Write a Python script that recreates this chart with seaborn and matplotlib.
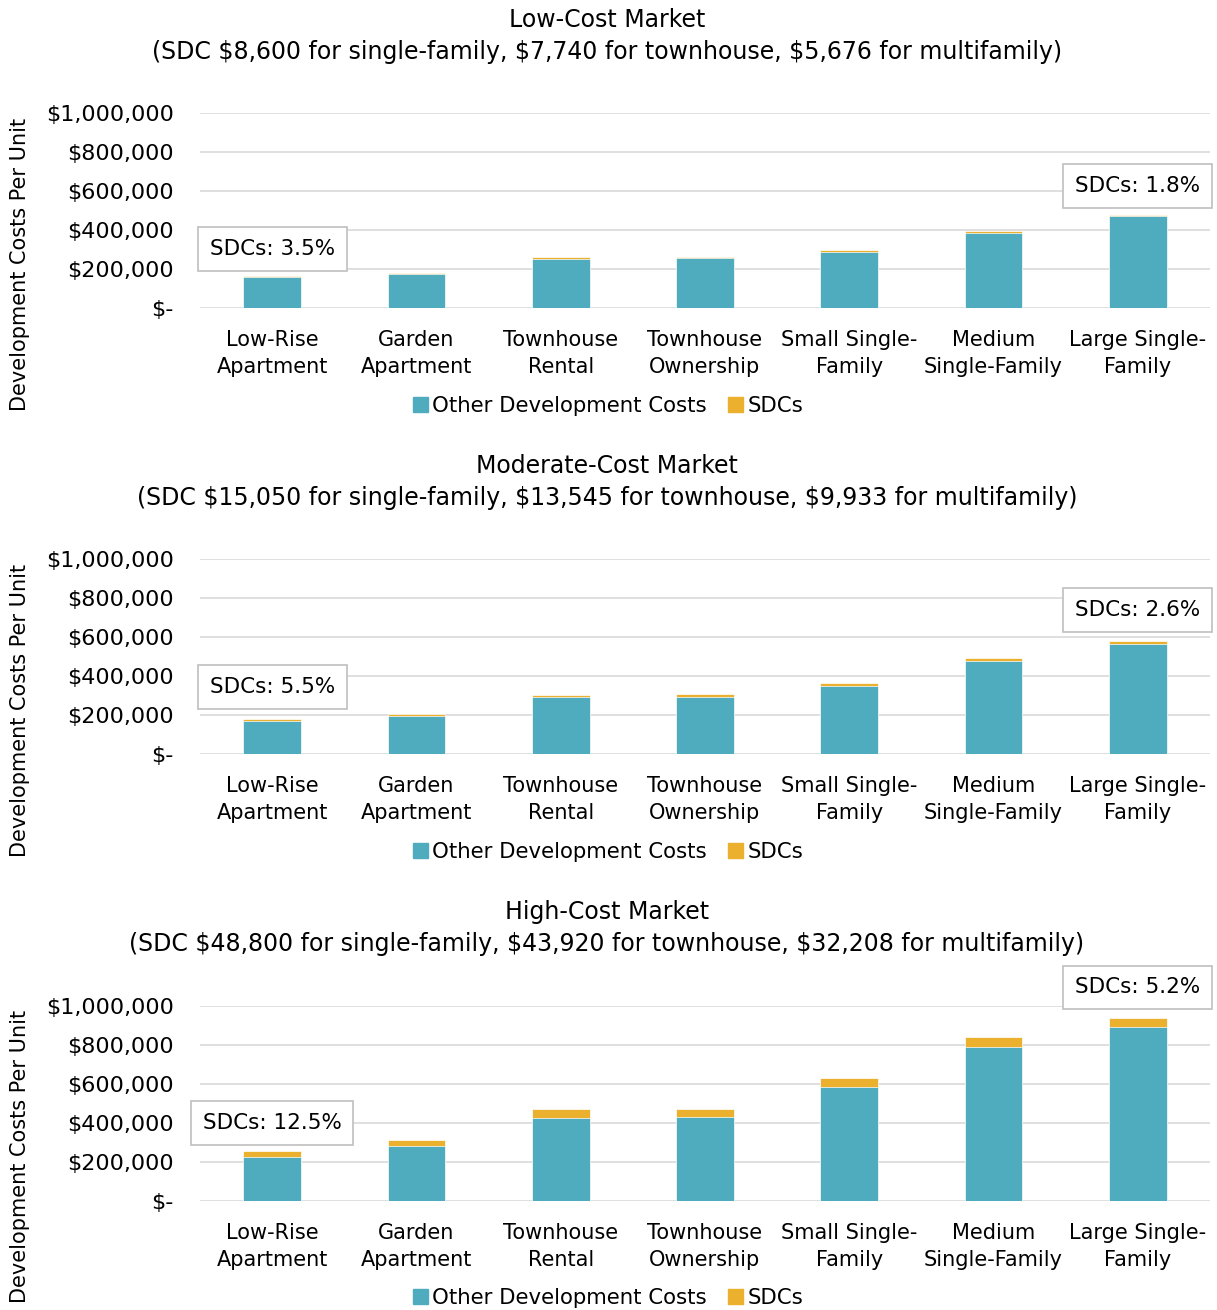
import pandas as pd
import matplotlib
matplotlib.use('Agg')
import matplotlib.pyplot as plt
from matplotlib.patches import Patch
from matplotlib.ticker import FuncFormatter
import seaborn as sns

categories = ['Low-Rise\nApartment', 'Garden\nApartment', 'Townhouse\nRental', 'Townhouse\nOwnership',
              'Small Single-\nFamily', 'Medium\nSingle-Family', 'Large Single-\nFamily']

markets = ['Low-Cost Market', 'Moderate-Cost Market', 'High-Cost Market']
subtitles = ['(SDC $8,600 for single-family, $7,740 for townhouse, $5,676 for multifamily)',
             '(SDC $15,050 for single-family, $13,545 for townhouse, $9,933 for multifamily)',
             '(SDC $48,800 for single-family, $43,920 for townhouse, $32,208 for multifamily)']

# SDC per unit by category
sdc_low = [5676, 5676, 7740, 7740, 8600, 8600, 8600]
sdc_mod = [9933, 9933, 13545, 13545, 15050, 15050, 15050]
sdc_high = [32208, 32208, 43920, 43920, 48800, 48800, 48800]

# other development costs
other_low = [156500, 175000, 253000, 255000, 286000, 385000, 469000]
other_mod = [171000, 195000, 290000, 295000, 351000, 478000, 564000]
other_high = [225000, 282000, 427000, 430000, 583000, 791000, 890000]

notes = [('SDCs: 3.5%', 'SDCs: 1.8%'), ('SDCs: 5.5%', 'SDCs: 2.6%'), ('SDCs: 12.5%', 'SDCs: 5.2%')]
note_y = [(302000, 626000), (344000, 738000), (399000, 1095000)]

teal = '#4FABBE'
gold = '#EBB12E'

plt.rcParams['font.family'] = ['DejaVu Sans']


def moeda(v, pos):
    if v == 0:
        return '$-'
    return f"${v:,.0f}"


fig = plt.figure(figsize=(12.17, 13.10), dpi=100)

bottoms = [0.765, 0.4244, 0.0832]
title_y = [20, 466, 912]

sdcs = [sdc_low, sdc_mod, sdc_high]
others = [other_low, other_mod, other_high]

for i in range(3):
    df = pd.DataFrame({'tipo': categories, 'outros': others[i], 'sdc': sdcs[i]})
    df['total'] = df['outros'] + df['sdc']

    ax = fig.add_axes([200 / 1217, bottoms[i], 1010 / 1217, 195 / 1310])
    sns.barplot(data=df, x='tipo', y='total', color=gold, width=0.4, saturation=1,
                edgecolor='white', linewidth=0.5, ax=ax, zorder=3)
    sns.barplot(data=df, x='tipo', y='outros', color=teal, width=0.4, saturation=1,
                edgecolor='white', linewidth=0.5, ax=ax, zorder=3)

    ax.set_ylim(0, 1000000)
    ax.set_xlim(-0.5, 6.5)
    ax.set_yticks(range(0, 1000001, 200000))
    ax.yaxis.set_major_formatter(FuncFormatter(moeda))
    ax.grid(axis='y', color='#D9D9D9', linewidth=1.2, zorder=0)
    ax.set_axisbelow(True)
    for s in ax.spines.values():
        s.set_visible(False)
    ax.tick_params(length=0, labelsize=15)
    ax.tick_params(axis='y', labelsize=16, pad=19)
    ax.tick_params(axis='x', pad=16)
    ax.set_xlabel('')
    ax.set_ylabel('')
    for lab in ax.get_yticklabels():
        lab.set_horizontalalignment('right')
    for lab in ax.get_xticklabels():
        lab.set_linespacing(1.45)

    box = dict(boxstyle='square,pad=0.55', facecolor='white', edgecolor='#BFBFBF', linewidth=1.2)
    ax.text(0, note_y[i][0], notes[i][0], ha='center', va='center', fontsize=15.5, bbox=box,
            zorder=5, clip_on=False)
    ax.text(6, note_y[i][1], notes[i][1], ha='center', va='center', fontsize=15.5, bbox=box,
            zorder=5, clip_on=False)

    fig.text(607 / 1217, 1 - title_y[i] / 1310, markets[i], ha='center', va='center', fontsize=17)
    fig.text(607 / 1217, 1 - (title_y[i] + 32) / 1310, subtitles[i], ha='center', va='center', fontsize=17)
    fig.text(20 / 1217, 1 - (title_y[i] + 244) / 1310, 'Development Costs Per Unit', rotation=90,
             ha='center', va='center', fontsize=15)

    handles = [Patch(color=teal), Patch(color=gold)]
    fig.legend(handles, ['Other Development Costs', 'SDCs'], loc='center',
               bbox_to_anchor=(608 / 1217, 1 - (title_y[i] + 386) / 1310), ncol=2, frameon=False,
               fontsize=15.3, handlelength=0.7, handleheight=0.7, handletextpad=0.2, columnspacing=1.0)

fig.savefig('out.png', dpi=100)
